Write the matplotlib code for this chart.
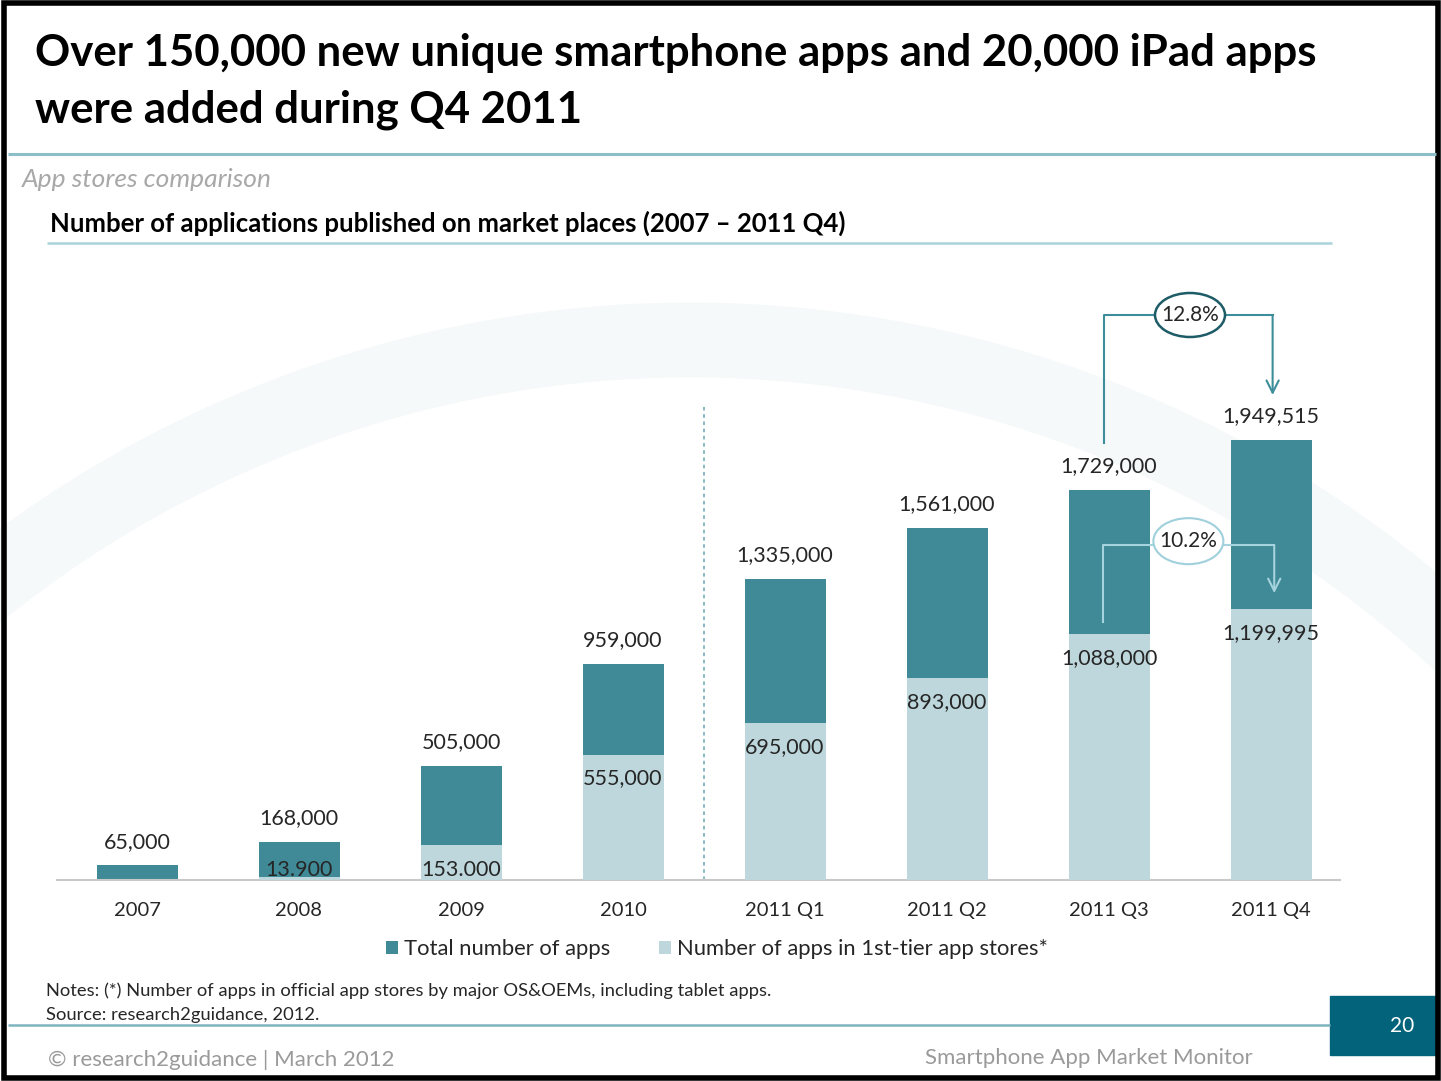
import matplotlib.pyplot as plt
from matplotlib.patches import Arc, Ellipse, Rectangle

# data
periods = ["2007", "2008", "2009", "2010", "2011 Q1", "2011 Q2", "2011 Q3", "2011 Q4"]
total_apps = [65000, 168000, 505000, 959000, 1335000, 1561000, 1729000, 1949515]
tier1_apps = [0, 13900, 153000, 555000, 695000, 893000, 1088000, 1199995]
tier1_labels = ["", "13.900", "153.000", "555,000", "695,000", "893,000",
                "1,088,000", "1,199,995"]
growth_labels = ["12.8%", "10.2%"]

W, H = 1441, 1081
DARK = "#3f8a96"
LIGHT = "#bdd7dc"
TEAL_LINE = "#8bbec8"
TEXT = "#262626"
FONT = "Lato"
LABEL_SIZE = 15.5

plt.rcParams["font.family"] = [FONT, "DejaVu Sans"]


def fx(x):
    return x / W


def fy(y):
    return 1 - y / H


fig = plt.figure(figsize=(W / 100, H / 100), dpi=100)

# slide decoration, drawn in pixel coordinates
bg = fig.add_axes([0, 0, 1, 1], zorder=-1)
bg.set_xlim(0, W)
bg.set_ylim(H, 0)
bg.axis("off")
bg.add_patch(Arc((690, 1470), 2 * 1130, 2 * 1130, theta1=180, theta2=360,
                 lw=54, color="#f6f9fa"))
bg.plot([8, 1436], [154, 154], color=TEAL_LINE, lw=2.2, solid_capstyle="butt")
bg.plot([47, 1332], [243, 243], color="#a9d2db", lw=1.8, solid_capstyle="butt")
bg.plot([8, 1330], [1025, 1025], color="#7db4c0", lw=1.8, solid_capstyle="butt")
bg.add_patch(Rectangle((1330, 996), 106, 59, color="#02637a"))
bg.add_patch(Rectangle((3.5, 2.5), 1434, 1075, fill=False, ec="black", lw=4))

# header texts
fig.text(fx(35), fy(66), "Over 150,000 new unique smartphone apps and 20,000 iPad apps",
         fontsize=31.5, fontweight="bold", color="black", va="baseline")
fig.text(fx(35), fy(122), "were added during Q4 2011",
         fontsize=31.5, fontweight="bold", color="black", va="baseline")
fig.text(fx(22), fy(187), "App stores comparison", fontsize=19,
         style="italic", color="#a8a8a8", va="baseline")
fig.text(fx(50), fy(232), "Number of applications published on market places (2007 \u2013 2011 Q4)",
         fontsize=18.5, fontweight="bold", color="black", va="baseline")

# chart
ax = fig.add_axes([fx(57), fy(880), (1340 - 57) / W, (880 - 280) / H])
ax.patch.set_alpha(0)
ymax = total_apps[-1] * 600 / 440
ax.set_xlim(-80 / 162, (1340 - 137) / 162)
ax.set_ylim(0, ymax)

x = list(range(len(periods)))
dark = ax.bar(x, total_apps, width=0.5, color=DARK, label="Total number of apps", zorder=2)
light = ax.bar(x, tier1_apps, width=0.5, color=LIGHT,
               label="Number of apps in 1st-tier app stores*", zorder=3)

for xi, total in zip(x, total_apps):
    ax.annotate(f"{total:,}", (xi, total), xytext=(0, 17), textcoords="offset points",
                ha="center", va="center", fontsize=LABEL_SIZE, color=TEXT, zorder=5)

for xi, val, lab in zip(x, tier1_apps, tier1_labels):
    if not lab:
        continue
    if val < 200000:
        # small segment: label sits at the bar base
        ax.annotate(lab, (xi, 0), xytext=(0, 7.5), textcoords="offset points",
                    ha="center", va="center", fontsize=LABEL_SIZE, color=TEXT, zorder=5)
    else:
        ax.annotate(lab, (xi, val), xytext=(0, -17), textcoords="offset points",
                    ha="center", va="center", fontsize=LABEL_SIZE, color=TEXT, zorder=5)

# divider between yearly and quarterly data
ax.plot([3.5, 3.5], [0, ymax * 475 / 600], color="#7fb5c0", lw=1.3,
        linestyle=(0, (2, 2)), zorder=1)

for side in ["top", "right", "left"]:
    ax.spines[side].set_visible(False)
ax.spines["bottom"].set_color("#c8c8c8")
ax.spines["bottom"].set_linewidth(1.5)
ax.set_yticks([])
ax.set_xticks(x)
ax.set_xticklabels(periods, fontsize=14.5, color=TEXT)
ax.tick_params(axis="x", length=0, pad=16)

# growth brackets Q3 -> Q4
units = ymax / 600  # data units per pixel
q3, q4 = x[-2], x[-1]

top = total_apps[-1] + 125 * units
ax.plot([q3 - 0.03, q3 - 0.03, q4 + 0.01], [total_apps[-1] - 3 * units, top, top],
        color="#3d8e9a", lw=1.5, zorder=4)
ax.annotate("", xy=(q4 + 0.01, total_apps[-1] + 45 * units), xytext=(q4 + 0.01, top),
            arrowprops=dict(arrowstyle="->", color="#3d8e9a", lw=1.5,
                            mutation_scale=22, shrinkA=0, shrinkB=0), zorder=4)
ax.add_patch(Ellipse(((q3 + q4) / 2, top), 70 / 162, 44 * units, fc="white",
                     ec="#1d5c66", lw=1.8, zorder=5))
ax.text((q3 + q4) / 2, top, growth_labels[0], ha="center", va="center",
        fontsize=15, color=TEXT, zorder=6)

mid = tier1_apps[-1] + 64 * units
ax.plot([q3 - 0.04, q3 - 0.04, q4 + 0.02], [tier1_apps[-2] + 12 * units, mid, mid],
        color="#a5d3de", lw=1.5, zorder=4)
ax.annotate("", xy=(q4 + 0.02, tier1_apps[-1] + 16 * units), xytext=(q4 + 0.02, mid),
            arrowprops=dict(arrowstyle="->", color="#a5d3de", lw=1.5,
                            mutation_scale=22, shrinkA=0, shrinkB=0), zorder=4)
ax.add_patch(Ellipse(((q3 + q4) / 2 - 0.01, mid + 4 * units), 70 / 162, 46 * units,
                     fc="white", ec="#9fd0dc", lw=1.5, zorder=5))
ax.text((q3 + q4) / 2 - 0.01, mid + 4 * units, growth_labels[1], ha="center",
        va="center", fontsize=15, color=TEXT, zorder=6)

fig.legend(handles=[dark, light], loc="center", ncol=2, frameon=False,
           bbox_to_anchor=(fx(717), fy(949)), fontsize=15.8, handlelength=0.55,
           handleheight=0.55, handletextpad=0.3, columnspacing=2.2,
           labelcolor=TEXT)

# notes and footer
fig.text(fx(46), fy(996), "Notes: (*) Number of apps in official app stores by major OS&OEMs, including tablet apps.",
         fontsize=13.2, color=TEXT, va="baseline")
fig.text(fx(46), fy(1020), "Source: research2guidance, 2012.",
         fontsize=13.2, color=TEXT, va="baseline")
fig.text(fx(48), fy(1066), "\u00a9 research2guidance | March 2012",
         fontsize=16, color="#9a9a9a", va="baseline")
fig.text(fx(1253), fy(1064), "Smartphone App Market Monitor",
         fontsize=16, color="#9a9a9a", va="baseline", ha="right")
fig.text(fx(1402), fy(1026), "20", fontsize=15, color="white",
         ha="center", va="center")

fig.savefig("out.png", dpi=100)
